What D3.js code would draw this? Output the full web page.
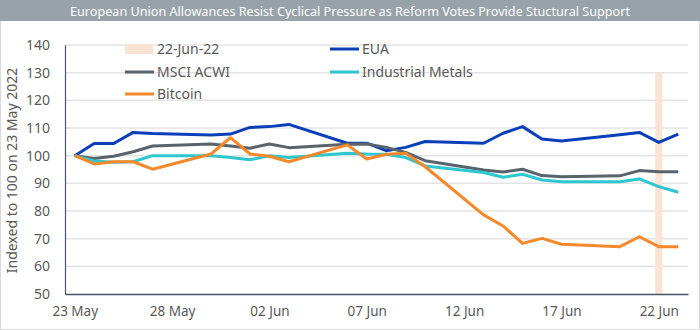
<!DOCTYPE html>
<html>
<head>
<meta charset="utf-8">
<script src="https://cdnjs.cloudflare.com/ajax/libs/d3/7.8.5/d3.min.js"></script>
<style>
  body { margin: 0; background: #fff; }
  svg { display: block; font-family: "Noto Sans", sans-serif; }
</style>
</head>
<body>
<div id="chart"></div>
<script>
// Data (trading days only)
const dates = ['2022-05-23', '2022-05-24', '2022-05-25', '2022-05-26', '2022-05-27',
    '2022-05-30', '2022-05-31', '2022-06-01', '2022-06-02', '2022-06-03',
    '2022-06-06', '2022-06-07', '2022-06-08', '2022-06-09', '2022-06-10',
    '2022-06-13', '2022-06-14', '2022-06-15', '2022-06-16', '2022-06-17',
    '2022-06-20', '2022-06-21', '2022-06-22', '2022-06-23'];
const eua = [100, 104.4, 104.4, 108.4, 108.0, 107.5, 107.8, 110.2, 110.5, 111.3,
    104.5, 104.5, 101.8, 103.0, 105.1, 104.5, 108.1, 110.5, 106.0, 105.3,
    107.6, 108.4, 104.8, 107.8];
const msciAcwi = [100, 99.0, 99.8, 101.4, 103.5, 104.2, 103.5, 102.7, 104.2, 102.9,
    104.1, 104.2, 103.0, 101.2, 98.2, 94.8, 94.1, 95.1, 92.8, 92.4,
    92.7, 94.6, 94.2, 94.2];
const industrialMetals = [100, 98.1, 97.6, 97.8, 100, 100, 99.3, 98.5, 100, 99.3,
    100.9, 100.6, 100.5, 99.3, 96.3, 93.9, 92.2, 93.3, 91.2, 90.6,
    90.6, 91.6, 88.8, 86.8];
const bitcoin = [100, 97.0, 97.8, 97.8, 95.1, 100.6, 106.5, 100.6, 99.8, 97.8,
    103.9, 98.8, 100.5, 100.9, 96.0, 78.6, 74.6, 68.3, 70.1, 68.0,
    67.1, 70.7, 67.1, 67.1];
const highlightDate = '2022-06-22';
const highlightValue = 130;
const xTicks = ['2022-05-23', '2022-05-28', '2022-06-02', '2022-06-07', '2022-06-12', '2022-06-17', '2022-06-22'];
const yTicks = [50, 60, 70, 80, 90, 100, 110, 120, 130, 140];

const title = 'European Union Allowances Resist Cyclical Pressure as Reform Votes Provide Stuctural Support';
const yTitle = 'Indexed to 100 on 23 May 2022';

const series = [
    { name: 'EUA', values: eua, color: '#0a3fb8' },
    { name: 'MSCI ACWI', values: msciAcwi, color: '#59636c' },
    { name: 'Industrial Metals', values: industrialMetals, color: '#2cc7cf' },
    { name: 'Bitcoin', values: bitcoin, color: '#f5882a' }
];

const width = 700, height = 330;
const margin = { left: 65, right: 12, top: 45, bottom: 36 };
const parse = d3.timeParse('%Y-%m-%d');

const svg = d3.select('#chart').append('svg')
    .attr('width', width)
    .attr('height', height);

// outer border + title bar
svg.append('rect')
    .attr('x', 0.5).attr('y', 0.5)
    .attr('width', width - 1).attr('height', height - 1)
    .attr('fill', '#fff')
    .attr('stroke', '#d9d9d9');

svg.append('rect')
    .attr('x', 0).attr('y', 0)
    .attr('width', width).attr('height', 21)
    .attr('fill', '#98a2a9');

svg.append('text')
    .attr('x', width / 2).attr('y', 15.5)
    .attr('text-anchor', 'middle')
    .attr('fill', '#fff')
    .attr('font-size', 13)
    .attr('textLength', 560)
    .attr('lengthAdjust', 'spacingAndGlyphs')
    .text(title);

// scales
const x = d3.scaleTime()
    .domain([d3.timeHour.offset(parse('2022-05-23'), -12), d3.timeHour.offset(parse('2022-06-23'), 12)])
    .range([margin.left, width - margin.right]);
const y = d3.scaleLinear()
    .domain([50, 140])
    .range([height - margin.bottom, margin.top]);

// gridlines
svg.append('g')
    .selectAll('line')
    .data(yTicks.filter(d => d > 50))
    .enter().append('line')
    .attr('x1', margin.left).attr('x2', width - margin.right)
    .attr('y1', d => y(d)).attr('y2', d => y(d))
    .attr('stroke', '#e3e3e3')
    .attr('stroke-width', 1.5);

// highlight column for 22 Jun
const hx = x(parse(highlightDate));
svg.append('rect')
    .attr('x', hx - 3.5)
    .attr('y', y(highlightValue))
    .attr('width', 7)
    .attr('height', y(50) - y(highlightValue))
    .attr('fill', '#fbe3d4');

// y axis
const yAxis = svg.append('g')
    .attr('transform', `translate(${margin.left},0)`)
    .call(d3.axisLeft(y).tickValues(yTicks).tickSize(0).tickPadding(15));
yAxis.select('.domain').attr('stroke', '#44546a').attr('stroke-width', 1.2);
yAxis.selectAll('text')
    .attr('font-family', '"Noto Sans", sans-serif')
    .attr('font-size', 14)
    .attr('fill', '#595959');

// x axis
const xAxis = svg.append('g')
    .attr('transform', `translate(0,${height - margin.bottom})`)
    .call(d3.axisBottom(x)
        .tickValues(xTicks.map(parse))
        .tickFormat(d3.timeFormat('%d %b'))
        .tickSize(0)
        .tickPadding(12));
xAxis.select('.domain').attr('stroke', '#44546a').attr('stroke-width', 1.5);
xAxis.selectAll('text')
    .attr('font-family', '"Noto Sans", sans-serif')
    .attr('font-size', 13.5)
    .attr('fill', '#595959');

// y axis title
svg.append('text')
    .attr('transform', `translate(17,${(margin.top + height - margin.bottom) / 2 + 1}) rotate(-90)`)
    .attr('text-anchor', 'middle')
    .attr('font-size', 14)
    .attr('fill', '#595959')
    .text(yTitle);

// lines
const line = d3.line()
    .x((d, i) => x(parse(dates[i])))
    .y(d => y(d));

svg.append('g')
    .selectAll('path')
    .data(series)
    .enter().append('path')
    .attr('d', d => line(d.values))
    .attr('fill', 'none')
    .attr('stroke', d => d.color)
    .attr('stroke-width', 3)
    .attr('stroke-linejoin', 'round');

// legend
const legendItems = [
    { name: '22-Jun-22', color: '#fbe3d4', bar: true },
    ...series
];
const legendPos = [[125, 49], [330, 49], [125, 72], [330, 72], [125, 94]];
const legend = svg.append('g');
legendItems.forEach((item, i) => {
    const [lx, ly] = legendPos[i];
    if (item.bar) {
        legend.append('rect')
            .attr('x', lx).attr('y', ly - 5)
            .attr('width', 28).attr('height', 10)
            .attr('fill', item.color);
    } else {
        legend.append('line')
            .attr('x1', lx).attr('x2', lx + 29)
            .attr('y1', ly).attr('y2', ly)
            .attr('stroke', item.color)
            .attr('stroke-width', 3);
    }
    legend.append('text')
        .attr('x', lx + 32).attr('y', ly + 5)
        .attr('font-size', 14)
        .attr('fill', '#595959')
        .text(item.name);
});
</script>
</body>
</html>
